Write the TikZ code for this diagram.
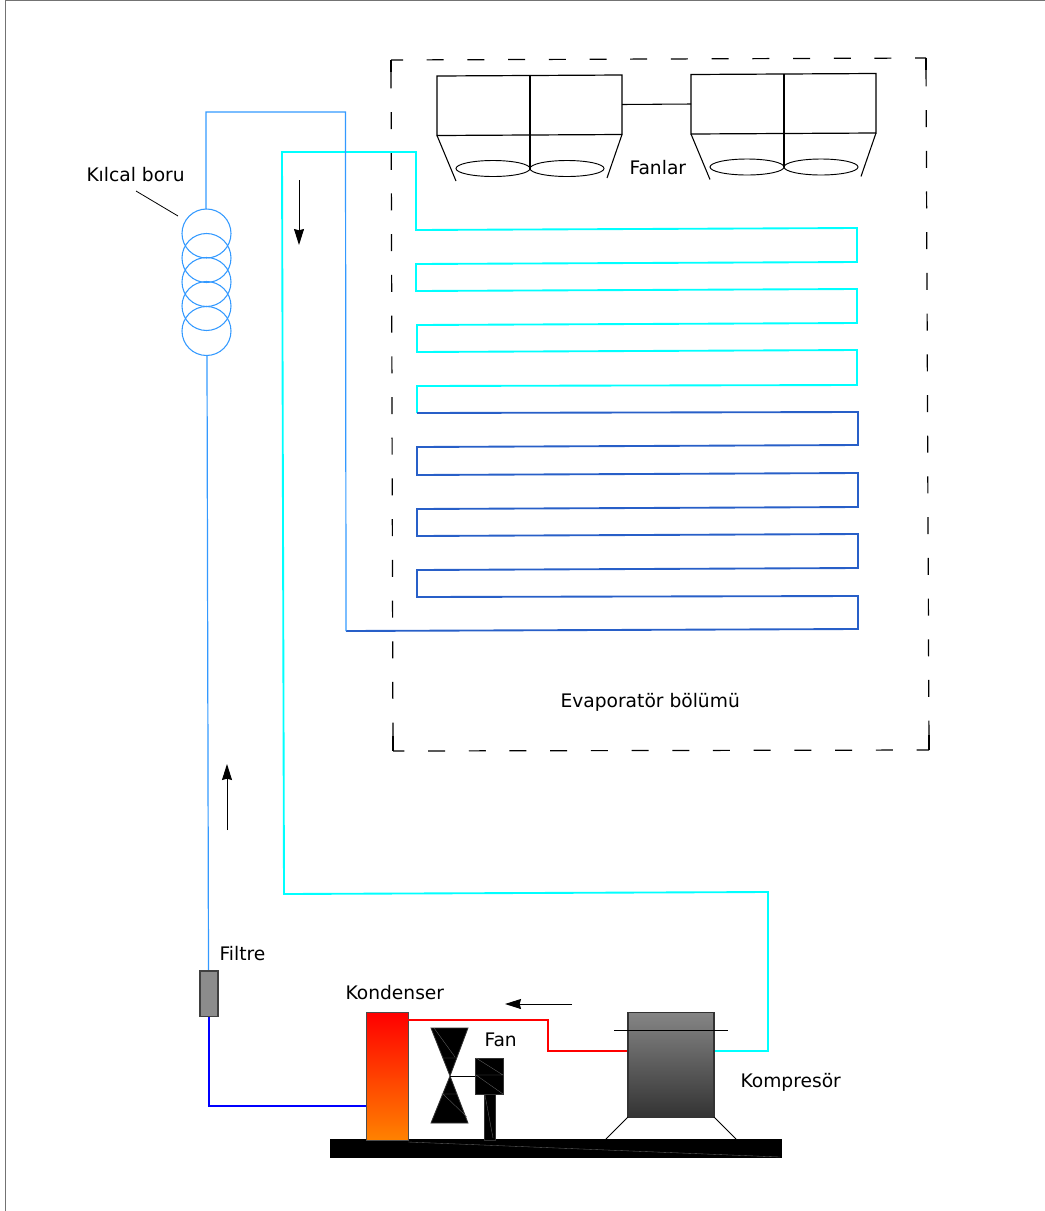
\documentclass[tikz,border=0pt]{standalone}
\usepackage{fontspec}
\setmainfont{DejaVu Sans}
\usetikzlibrary{arrows.meta}
\definecolor{capblue}{RGB}{51,153,255}
\definecolor{coilcyan}{RGB}{0,255,255}
\definecolor{coilblue}{RGB}{40,95,200}
\definecolor{liqblue}{RGB}{0,0,255}
\definecolor{hotred}{RGB}{255,0,0}
\definecolor{hotorange}{RGB}{255,130,0}
\tikzset{every picture/.style={line width=0.75pt},
  etiket/.style={anchor=west,inner sep=0pt,font=\fontsize{14pt}{16pt}\selectfont},
  akis/.style={line width=0.7pt,-{Stealth[length=12pt,width=7.5pt,inset=1pt]}},
  kutu/.style={draw=black,fill=white,line width=0.9pt},
  siyah/.style={draw=black!80,fill=black,line width=0.6pt},
  kilcal/.style={draw=black!60,line width=0.25pt}}

\begin{document}
\begin{tikzpicture}[x=0.75pt,y=0.75pt,yscale=-1,xscale=1]
\useasboundingbox (0,0) rectangle (1045,1211);
%page border
\draw [color=black!55] (5.5,1211) -- (5.5,0.5) -- (1045,0.5);

%Evaporator frame
\draw [line width=0.9pt,dash pattern=on 12.75pt off 17.78pt,dash phase=3.75pt] (391,60) -- (926,58);
\draw [line width=0.9pt,dash pattern=on 12.75pt off 17.78pt,dash phase=4.25pt] (393,751) -- (929,750);
\draw [line width=0.9pt,dash pattern=on 12.75pt off 17.78pt,dash phase=22pt] (926,58) -- (929,750);
\draw [line width=0.9pt,dash pattern=on 12.75pt off 17.78pt,dash phase=22pt] (391,60) -- (393,751);
\draw [line width=0.9pt] (391,60) -- (391,72) (926,58) -- (926,70) (929,735) -- (929,750) (393,736) -- (393,751);

%Fan units
\foreach \dx/\dy/\nm in {0/0/a,254/-1.5/b}{
\begin{scope}[shift={(\dx,\dy)}]
\draw [kutu] (437,76) -- (622,75) -- (622,134.5) -- (437,135.5) -- cycle;
\draw [line width=0.8pt] (530,75.5) -- (530,168.5);
\draw [line width=0.8pt] (437,135.5) -- (456,181);
\draw [line width=0.8pt] (622,134.5) -- (607,178);
\draw [line width=0.7pt] (493,168.5) ellipse (37 and 8);
\draw [line width=0.7pt] (567,168.5) ellipse (37 and 8);
\end{scope}}
\draw [line width=0.8pt] (622,104.5) -- (691,104);

%Capillary coil
\foreach \cy in {233.5,258,282,306,331}
  \draw [color=capblue,line width=0.8pt] (206.5,\cy) circle (24.5);

%Return line
\draw [color=coilcyan,line width=1.4pt] (714,1051) -- (768,1051) -- (768,892) -- (284,894) -- (282,152) -- (416,152) -- (416,230) -- (857,228) -- (857,262) -- (416,264) -- (416,291) -- (857,289) -- (857,323) -- (417,325) -- (417,352) -- (857,350) -- (857,385) -- (417,386) -- (417,413);
%Evaporator lower half
\draw [color=coilblue,line width=1.4pt] (417,413) -- (858,412) -- (858,445) -- (417,447) -- (417,475) -- (858,473) -- (858,507) -- (417,509) -- (417,536) -- (858,534) -- (858,568) -- (417,570) -- (417,597) -- (858,596) -- (858,629) -- (346,631);
%Capillary tube
\draw [color=capblue,line width=0.9pt] (346,631) -- (345.5,112) -- (206,112) -- (206,209);
\draw [color=capblue,line width=0.9pt] (207,355.5) -- (208.5,971);

%Flow arrows
\draw [akis] (299,180) -- (299,245);
\draw [akis] (227,830) -- (227,764);
\draw [akis] (572,1004) -- (505,1004);

%Base
\fill [black] (330,1139) rectangle (782,1158);
\draw [kilcal] (408,1142) -- (780,1157);

%Filter
\node (filtre) [draw=black!75,fill=black!45,line width=1pt,minimum width=13.5pt,minimum height=34pt,inner sep=0pt] at (209,993.5) {};
\draw [color=liqblue,line width=1.4pt] (filtre.south) -- (209,1106) -- (367,1106);

%Condenser
\node (kondenser) [draw=black!70,line width=0.9pt,minimum width=31pt,minimum height=95.5pt,inner sep=0pt,top color=hotred,bottom color=hotorange] at (387.5,1076.5) {};
\draw [color=hotred,line width=1.4pt] (408,1020) -- (548,1020) -- (548,1051) -- (628,1051);

%Fan
\fill [siyah] (431,1028) -- (468,1028) -- (450,1076) -- (468,1123) -- (431,1123) -- (450,1076) -- cycle;
\draw [line width=0.7pt] (450,1076) -- (476,1076);
\fill [siyah] (475,1058) rectangle (503,1094);
\fill [siyah] (484,1094) rectangle (495,1140);
\draw [kilcal] (434,1028) -- (455,1057) (443,1058) -- (457,1058) (443,1094) -- (467,1117) (441,1094) -- (458,1094);
\draw [kilcal] (476,1058) -- (503,1075) -- (476,1075) -- (503,1094) (485,1095) -- (493,1138);

%Compressor
\node (kompresor) [draw=black!80,line width=0.9pt,minimum width=64.5pt,minimum height=78.5pt,inner sep=0pt,top color=black!48,bottom color=black!80] at (671,1065) {};
\draw [line width=0.7pt] (614,1030.5) -- (728,1030.5);
\draw [line width=0.7pt] (628,1117) -- (606,1139);
\draw [line width=0.7pt] (714,1117) -- (736,1139);

%Leader
\draw [line width=0.6pt] (136,191) -- (178,216);

% Text Node
\node (lblboru) [etiket] at (86,175) {Kılcal boru};
\node (lblfanlar) [etiket] at (629,168) {Fanlar};
\node (lblevap) [etiket] at (560,702.5) {Evaporatör bölümü};
\node (lblfiltre) [etiket] at (219,954) {Filtre};
\node (lblkond) [etiket] at (345,993) {Kondenser};
\node (lblfan) [etiket] at (484,1040) {Fan};
\node (lblkomp) [etiket] at (740,1082) {Kompresör};

\end{tikzpicture}
\end{document}
